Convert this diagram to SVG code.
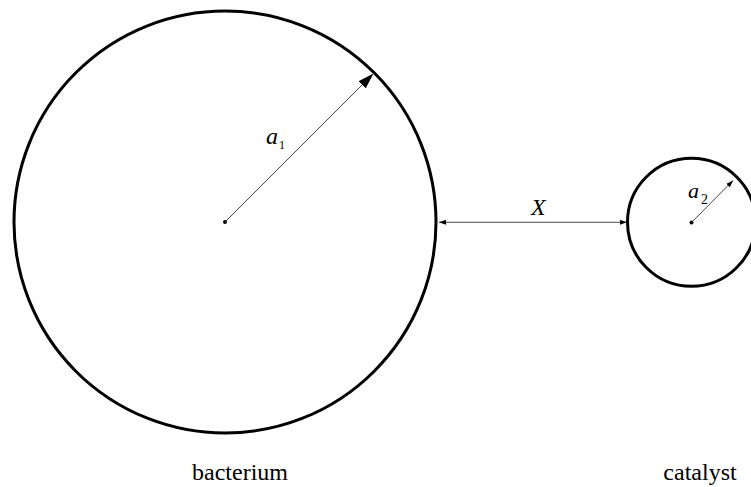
<svg xmlns="http://www.w3.org/2000/svg" width="751" height="487" viewBox="0 0 751 487">
<style>
.body{fill:none;stroke:#000;stroke-width:3}
.dim{fill:none;stroke:#333;stroke-width:0.9}
.dot{fill:#000}
text{font-family:'Liberation Serif','Times New Roman',Times,'DejaVu Serif',serif;fill:#000}
.lbl{font-size:24px}
.math{font-style:italic}
</style>
<defs>
<marker id="bigArrow" markerUnits="userSpaceOnUse" markerWidth="17" markerHeight="10" refX="16" refY="5" orient="auto">
<path d="M0,0 L16,5 L0,10 z" fill="#000"/>
</marker>
<marker id="smallArrow" markerUnits="userSpaceOnUse" markerWidth="8" markerHeight="5" refX="7" refY="2.5" orient="auto-start-reverse">
<path d="M0,0 L7,2.5 L0,5 z" fill="#000"/>
</marker>
</defs>
<rect width="751" height="487" fill="#fff"/>
<g id="bacterium">
<circle class="body" cx="225" cy="222" r="211"/>
<circle class="dot" cx="225" cy="222" r="2"/>
<text class="lbl" x="240" y="480" text-anchor="middle" font-family="Liberation Serif, serif">bacterium</text>
</g>
<g id="catalyst">
<circle class="body" cx="691.5" cy="222.3" r="64"/>
<circle class="dot" cx="691.5" cy="222.5" r="2"/>
<text class="lbl" x="700" y="480" text-anchor="middle" font-family="Liberation Serif, serif">catalyst</text>
</g>
<g id="connectors">
<line class="dim" x1="225" y1="222" x2="373.5" y2="73.5" marker-end="url(#bigArrow)"/>
<line class="dim" x1="691.5" y1="222.5" x2="733" y2="180.5" marker-end="url(#smallArrow)"/>
<line class="dim" x1="439" y1="222.3" x2="627" y2="222.3" marker-start="url(#smallArrow)" marker-end="url(#smallArrow)"/>
</g>
<g id="labels">
<text class="math" x="266" y="144" font-size="24" font-family="Liberation Serif, serif">a</text>
<text x="279" y="149" font-size="12" font-family="Liberation Serif, serif">1</text>
<text class="math" x="531" y="215" font-size="24" font-family="Liberation Serif, serif">X</text>
<text class="math" x="688" y="198" font-size="22" font-family="Liberation Serif, serif">a</text>
<text x="701" y="204" font-size="14" font-family="Liberation Serif, serif">2</text>
</g>
</svg>
